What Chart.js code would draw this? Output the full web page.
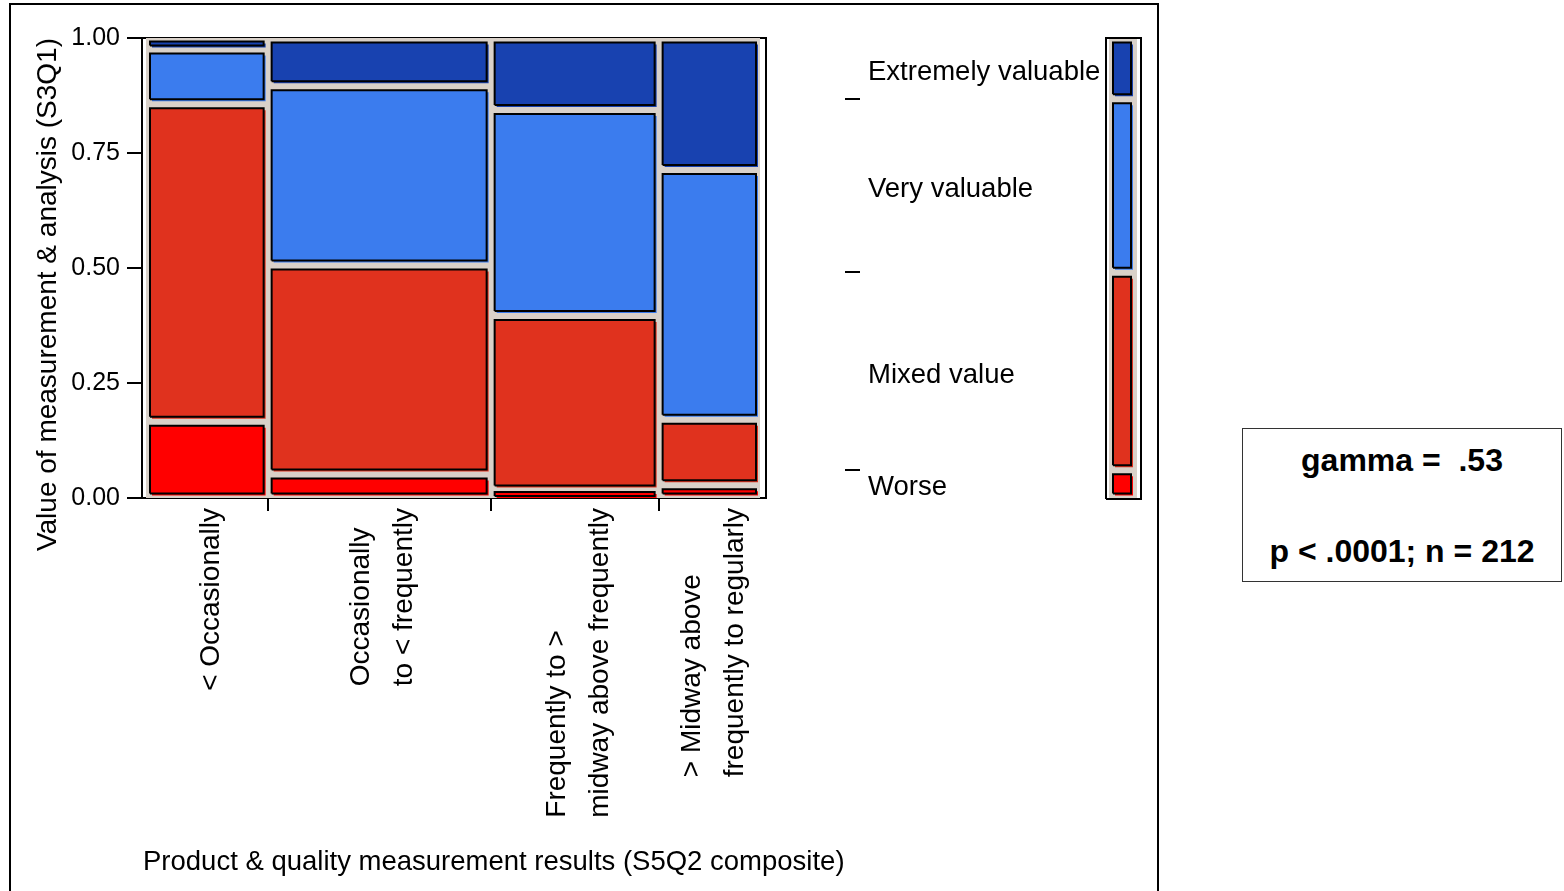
<!DOCTYPE html>
<html>
<head>
<meta charset="utf-8">
<script src="https://cdn.jsdelivr.net/npm/chart.js@4.4.1/dist/chart.umd.min.js"></script>
<style>
  html, body { margin: 0; padding: 0; background: #fff; width: 1564px; height: 891px; overflow: hidden; }
  body { position: relative; font-family: "Liberation Sans", Arial, sans-serif; }
  #frame { position: absolute; left: 9px; top: 3px; width: 1146px; height: 900px; border: 2px solid #000; }
  #mosaic { position: absolute; left: 0; top: 0; }
  #levels { position: absolute; left: 820px; top: 0; }
  #stats { position: absolute; left: 1242px; top: 428px; width: 318px; height: 152px; border: 1.5px solid #333; background: #fff; }
  #stats div { position: absolute; left: 0; width: 100%; text-align: center; font-weight: bold; font-size: 32px; line-height: 36px; white-space: pre; color: #000; }
</style>
</head>
<body>
<div id="frame"></div>
<canvas id="mosaic" width="880" height="891"></canvas>
<canvas id="levels" width="340" height="560"></canvas>
<div id="stats">
  <div style="top:13px">gamma =  .53</div>
  <div style="top:104px">p &lt; .0001; n = 212</div>
</div>
<script>
// ---- data: respondents per column (S5Q2 composite) and S3Q1 level ----
const categories = [
  ['< Occasionally'],
  ['Occasionally', 'to < frequently'],
  ['Frequently to >', 'midway above frequently'],
  ['> Midway above', 'frequently to regularly']
];
const levels = ['Worse', 'Mixed value', 'Very valuable', 'Extremely valuable'];
const worse             = [7, 4, 1, 1];
const mixedValue        = [29, 35, 22, 5];
const veryValuable      = [5, 30, 26, 19];
const extremelyValuable = [1, 8, 9, 10];
const yTicks = [0, 0.25, 0.5, 0.75, 1];

const xTitle = 'Product & quality measurement results (S5Q2 composite)';
const yTitle = 'Value of measurement & analysis (S3Q1)';

// ---- styling ----
const FONT = '"Liberation Sans", Arial, sans-serif';
const levelColors = ['#ff0000', '#e0321e', '#3b7cee', '#1842b0'];
const TILE_BG = '#d9d1c9';
Chart.defaults.font.family = FONT;
Chart.defaults.color = '#000';

// ---- derived totals ----
const series = [worse, mixedValue, veryValuable, extremelyValuable];
const colTotals = categories.map((_, c) => series.reduce((s, a) => s + a[c], 0));
const grand = colTotals.reduce((s, v) => s + v, 0);
const colStart = colTotals.map((_, c) => colTotals.slice(0, c).reduce((s, v) => s + v, 0));
const levelTotals = series.map(a => a.reduce((s, v) => s + v, 0));
const levelCum = levelTotals.map((_, i) => levelTotals.slice(0, i).reduce((s, v) => s + v, 0) / grand);

// ---- layout of the mosaic canvas ----
const PLOT = { left: 142, top: 38, right: 766, bottom: 498 };
const CANVAS_W = 880, CANVAS_H = 891;
const TILE_LEFT_PX = 4, TILE_RIGHT_PX = 6;            // blank strip inside the frame
const tileSpanPx = (PLOT.right - PLOT.left) - TILE_LEFT_PX - TILE_RIGHT_PX;
const X_MIN = -grand * TILE_LEFT_PX / tileSpanPx;
const X_MAX = grand * (1 + TILE_RIGHT_PX / tileSpanPx);
const unitsPerPxX = (X_MAX - X_MIN) / (PLOT.right - PLOT.left);
const unitsPerPxY = 1 / (PLOT.bottom - PLOT.top);

const INSET_X = 4, INSET_Y = 4.5, MIN_H = 4, SHADOW = 2, BORDER = 2;

function poly(x0, x1, y0, y1) {
  return [{x: x0, y: y0}, {x: x1, y: y0}, {x: x1, y: y1}, {x: x0, y: y1}, {x: x0, y: y0}];
}
// a tile inset from its cell, with a small fill offset to the lower right
function tile(x0, x1, y0, y1, upx, upy) {
  const ix = INSET_X * upx, iy = INSET_Y * upy, mh = MIN_H * upy;
  let lo = y0 + iy, hi = y1 - iy;
  if (hi - lo < mh) { const m = (y0 + y1) / 2; lo = m - mh / 2; hi = m + mh / 2; }
  return { body: poly(x0 + ix, x1 - ix, lo, hi),
           shadow: poly(x0 + ix + SHADOW * upx, x1 - ix + SHADOW * upx, lo - SHADOW * upy, hi - SHADOW * upy) };
}
function shapeSet(data, fillColor, withBorder, order, extra) {
  return Object.assign({
    data, order, fill: withBorder === 'only' ? false : 'shape',
    backgroundColor: fillColor,
    borderColor: withBorder ? '#000' : 'rgba(0,0,0,0)',
    borderWidth: withBorder ? BORDER : 1,
    borderJoinStyle: 'miter', pointRadius: 0, pointHoverRadius: 0, tension: 0
  }, extra || {});
}

const mosaicSets = [shapeSet(poly(0, grand, 0, 1), TILE_BG, false, 3)];
categories.forEach((_, c) => {
  let cum = 0;
  series.forEach((arr, l) => {
    const y0 = cum / colTotals[c], y1 = (cum + arr[c]) / colTotals[c];
    cum += arr[c];
    const t = tile(colStart[c], colStart[c] + colTotals[c], y0, y1, unitsPerPxX, unitsPerPxY);
    mosaicSets.push(shapeSet(t.shadow, levelColors[l], false, 2));
    mosaicSets.push(shapeSet(t.body, levelColors[l], true, 1));
  });
});
const colBoundaries = colStart.slice(1);

// category names under the columns (rotated, lines left-aligned) and the
// x-axis title, which is wider than the plot and starts at its left edge
const LABEL_GAP = 10, LINE_STEP = 43, LABEL_DX = 4, X_TITLE_Y = 862;
const axisText = {
  id: 'axisText',
  afterDraw(chart) {
    const { ctx, scales: { x } } = chart;
    ctx.save();
    ctx.fillStyle = '#000';
    ctx.textAlign = 'left';
    ctx.textBaseline = 'middle';
    ctx.font = '28px ' + FONT;
    categories.forEach((lines, c) => {
      const cx = x.getPixelForValue(colStart[c] + colTotals[c] / 2) + LABEL_DX;
      const widest = Math.max(...lines.map(t => ctx.measureText(t).width));
      const yStart = chart.chartArea.bottom + LABEL_GAP + widest;
      lines.forEach((t, i) => {
        const lx = cx + (i - (lines.length - 1) / 2) * LINE_STEP;
        ctx.save();
        ctx.translate(lx, yStart);
        ctx.rotate(-Math.PI / 2);
        ctx.fillText(t, 0, 0);
        ctx.restore();
      });
    });
    ctx.font = '27.5px ' + FONT;
    ctx.fillText(xTitle, chart.chartArea.left + 1, X_TITLE_Y);
    ctx.restore();
  }
};

const frameEdge = { display: true, color: '#000', width: 2 };
new Chart(document.getElementById('mosaic'), {
  type: 'line',
  data: { datasets: mosaicSets },
  plugins: [axisText],
  options: {
    responsive: false, animation: false, events: [],
    layout: { padding: { left: 0, top: PLOT.top, right: CANVAS_W - PLOT.right, bottom: 0 } },
    plugins: { legend: { display: false }, tooltip: { enabled: false } },
    scales: {
      x: {
        type: 'linear', position: 'bottom', min: X_MIN, max: X_MAX,
        afterBuildTicks: s => { s.ticks = colBoundaries.map(v => ({ value: v })); },
        ticks: { display: false },
        grid: { drawOnChartArea: false, drawTicks: true, tickLength: 13, color: '#000', lineWidth: 2 },
        border: frameEdge,
        afterFit: s => { s.height = CANVAS_H - PLOT.bottom; }
      },
      y: {
        type: 'linear', position: 'left', min: 0, max: 1,
        afterBuildTicks: s => { s.ticks = yTicks.map(v => ({ value: v })); },
        ticks: { callback: v => Number(v).toFixed(2), font: { size: 25, family: FONT }, color: '#000', padding: 7, autoSkip: false },
        grid: { drawOnChartArea: false, tickLength: 15, color: '#000', lineWidth: 2 },
        border: frameEdge,
        title: { display: true, text: yTitle, align: 'end', color: '#000',
                 font: { size: 28, family: FONT }, padding: { top: 31, bottom: 0 } },
        afterFit: s => { s.width = PLOT.left; }
      },
      xTop: {
        type: 'linear', position: 'top', ticks: { display: false },
        grid: { display: false }, border: frameEdge,
        afterFit: s => { s.height = 0; }
      },
      yRight: {
        type: 'linear', position: 'right', ticks: { display: false },
        grid: { display: false }, border: frameEdge,
        afterFit: s => { s.width = 0; }
      }
    }
  }
});

// ---- overall distribution of S3Q1 levels, drawn as a single bar ----
const LB = { left: 40, top: PLOT.top, right: 322, bottom: PLOT.bottom };
const LB_W = 340, LB_H = 560;
const BAR_FRAME = [246, 281], BAR_BG = [249, 277], BAR_BODY = [253, 271];
const lbUnitsY = 1 / (LB.bottom - LB.top);
const levelBoundaries = levelCum.slice(1);
const levelCenters = levelTotals.map((v, i) => levelCum[i] + v / grand / 2);

const levelSets = [
  shapeSet(poly(BAR_FRAME[0], BAR_FRAME[1], -1 * lbUnitsY, 1), '#000', 'only', 0, { clip: false }),
  shapeSet(poly(BAR_BG[0], BAR_BG[1], 0, 1), TILE_BG, false, 3, { clip: false })
];
levelTotals.forEach((v, l) => {
  const t = tile(BAR_BODY[0] - INSET_X, BAR_BODY[1] + INSET_X, levelCum[l], levelCum[l] + v / grand, 1, lbUnitsY);
  levelSets.push(shapeSet(t.shadow, levelColors[l], false, 2, { yAxisID: 'yb' }));
  levelSets.push(shapeSet(t.body, levelColors[l], true, 1, { yAxisID: 'yb' }));
});
levelSets[0].yAxisID = 'yb';
levelSets[1].yAxisID = 'yb';

new Chart(document.getElementById('levels'), {
  type: 'line',
  data: { datasets: levelSets },
  options: {
    responsive: false, animation: false, events: [],
    layout: { padding: { left: LB.left - 15, top: LB.top, right: LB_W - LB.right, bottom: LB_H - LB.bottom } },
    plugins: { legend: { display: false }, tooltip: { enabled: false } },
    scales: {
      x: { type: 'linear', min: 0, max: LB.right - LB.left, display: false },
      yb: {
        type: 'linear', position: 'left', weight: 1, min: 0, max: 1,
        afterBuildTicks: s => { s.ticks = levelBoundaries.map(v => ({ value: v })); },
        ticks: { display: false },
        grid: { drawOnChartArea: false, tickLength: 15, color: '#000', lineWidth: 2 },
        border: { display: false },
        afterFit: s => { s.width = 15; }
      },
      yl: {
        type: 'linear', position: 'left', weight: 0, min: 0, max: 1,
        afterBuildTicks: s => { s.ticks = levelCenters.map(v => ({ value: v })); },
        ticks: { mirror: true, padding: 8, autoSkip: false, color: '#000', labelOffset: 4,
                 font: { size: 27.5, family: FONT }, callback: (v, i) => levels[i] },
        grid: { display: false, drawTicks: false },
        border: { display: false },
        afterFit: s => { s.width = 0; }
      }
    }
  }
});
</script>
</body>
</html>
